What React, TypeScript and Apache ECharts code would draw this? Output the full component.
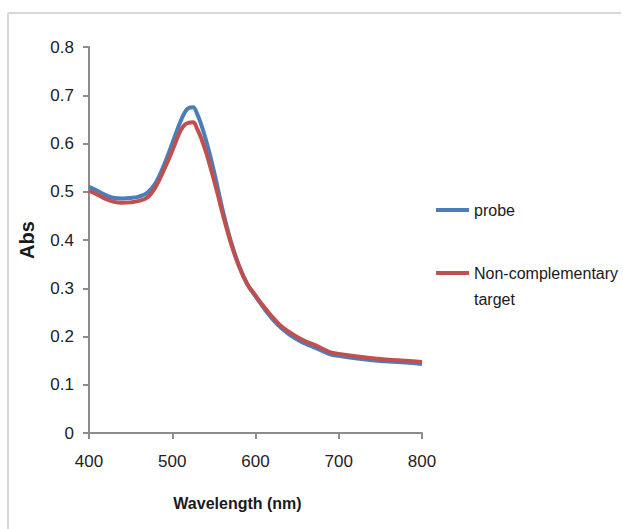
import React, { useEffect, useRef } from "react";
import * as echarts from "echarts";

const wavelengths = [400, 410, 420, 430, 440, 450, 460, 470, 480, 490, 500, 505, 510, 515, 520, 525, 530, 535, 540, 545, 550, 555, 560, 570, 580, 590, 600, 610, 620, 630, 640, 650, 660, 670, 680, 690, 700, 720, 740, 760, 780, 800];
const probe = [0.510, 0.502, 0.493, 0.487, 0.486, 0.487, 0.490, 0.498, 0.518, 0.555, 0.600, 0.624, 0.646, 0.664, 0.674, 0.675, 0.661, 0.638, 0.610, 0.578, 0.543, 0.505, 0.466, 0.400, 0.348, 0.309, 0.283, 0.259, 0.237, 0.219, 0.205, 0.194, 0.185, 0.178, 0.170, 0.163, 0.160, 0.155, 0.151, 0.148, 0.146, 0.143];
const nonComplementary = [0.502, 0.494, 0.485, 0.479, 0.477, 0.478, 0.481, 0.488, 0.510, 0.545, 0.585, 0.607, 0.627, 0.639, 0.643, 0.644, 0.630, 0.610, 0.585, 0.556, 0.525, 0.492, 0.458, 0.396, 0.346, 0.309, 0.285, 0.262, 0.241, 0.223, 0.210, 0.199, 0.190, 0.183, 0.175, 0.167, 0.164, 0.159, 0.155, 0.152, 0.150, 0.147];
const seriesNames = ["probe", "Non-complementary target"];
const legendLabels = ["probe", " \nNon-complementary\ntarget"];
const xTitle = "Wavelength (nm)";
const yTitle = "Abs";

const FONT = "'Liberation Sans', Arial, sans-serif";

export default function App() {
  const ref = useRef<HTMLDivElement>(null);
  useEffect(() => {
    if (!ref.current) return;
    const chart = echarts.init(ref.current, null, { renderer: "svg" });
    const pair = (ys: number[]) => wavelengths.map((w, i) => [w, ys[i]]);
    chart.setOption({
      animation: false,
      backgroundColor: "#ffffff",
      grid: { left: 89, right: 201, top: 47, bottom: 96, containLabel: false },
      graphic: [
        { type: "line", shape: { x1: 8, y1: 13, x2: 621, y2: 13 }, style: { stroke: "#d4d8d8", lineWidth: 2 } },
        { type: "line", shape: { x1: 8, y1: 13, x2: 8, y2: 529 }, style: { stroke: "#d4d8d8", lineWidth: 2 } },
      ],
      legend: [
        {
          data: [seriesNames[0]],
          orient: "vertical",
          left: 431,
          top: 197,
          icon: "rect",
          itemWidth: 33,
          itemHeight: 4,
          formatter: () => legendLabels[0],
          textStyle: { fontFamily: FONT, fontSize: 16, color: "#1a1a1a" },
        },
        {
          data: [seriesNames[1]],
          orient: "vertical",
          left: 431,
          top: 229,
          icon: "rect",
          itemWidth: 33,
          itemHeight: 4,
          formatter: () => legendLabels[1],
          textStyle: { fontFamily: FONT, fontSize: 16, color: "#1a1a1a", lineHeight: 26 },
        },
      ],
      xAxis: {
        type: "value",
        min: 400,
        max: 800,
        interval: 100,
        name: xTitle,
        nameLocation: "middle",
        nameGap: 62,
        nameTextStyle: { fontFamily: FONT, fontSize: 16, fontWeight: "bold", color: "#1a1a1a", padding: [0, 36, 0, 0] },
        axisLine: { show: true, lineStyle: { color: "#8c8c8c", width: 2 } },
        axisTick: { show: true, inside: false, length: 6, lineStyle: { color: "#8c8c8c", width: 2 } },
        axisLabel: { fontFamily: FONT, fontSize: 17, color: "#222", margin: 20 },
        splitLine: { show: false },
      },
      yAxis: {
        type: "value",
        min: 0,
        max: 0.8,
        interval: 0.1,
        name: yTitle,
        nameLocation: "middle",
        nameGap: 52,
        nameRotate: 90,
        nameTextStyle: { fontFamily: FONT, fontSize: 20, fontWeight: "bold", color: "#1a1a1a" },
        axisLine: { show: true, lineStyle: { color: "#8c8c8c", width: 2 } },
        axisTick: { show: true, inside: false, length: 6, lineStyle: { color: "#8c8c8c", width: 2 } },
        axisLabel: { fontFamily: FONT, fontSize: 17, color: "#222", margin: 15, formatter: (v: number) => (v === 0 ? "0" : v.toFixed(1)) },
        splitLine: { show: false },
      },
      series: [
        {
          name: seriesNames[0],
          type: "line",
          data: pair(probe),
          smooth: 0.4,
          showSymbol: false,
          symbol: "none",
          color: "#4a7ebb",
          lineStyle: { color: "#4a7ebb", width: 4 },
          z: 2,
        },
        {
          name: seriesNames[1],
          type: "line",
          data: pair(nonComplementary),
          smooth: 0.4,
          showSymbol: false,
          symbol: "none",
          color: "#c0504d",
          lineStyle: { color: "#c0504d", width: 4 },
          z: 3,
        },
      ],
    });
    return () => chart.dispose();
  }, []);
  return <div ref={ref} style={{ position: "absolute", left: 0, top: 0, width: 623, height: 529 }} />;
}
